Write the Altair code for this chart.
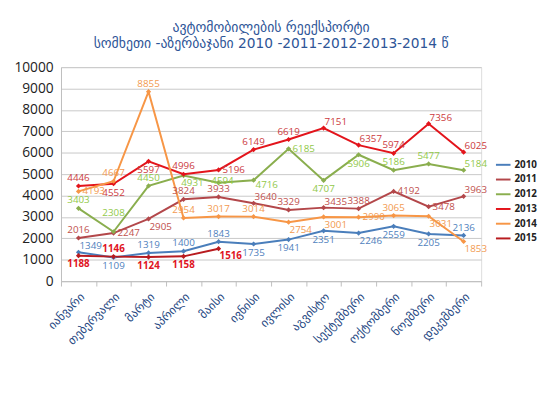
import altair as alt
import pandas as pd

months = ["იანვარი", "თებერვალი", "მარტი", "აპრილი", "მაისი", "ივნისი",
          "ივლისი", "აგვისტო", "სექტემბერი", "ოქტომბერი", "ნოემბერი", "დეკემბერი"]

years = ["2010", "2011", "2012", "2013", "2014", "2015"]

v2010 = [1349, 1109, 1319, 1400, 1843, 1735, 1941, 2351, 2246, 2559, 2205, 2136]
v2011 = [2016, 2247, 2905, 3824, 3933, 3640, 3329, 3435, 3388, 4192, 3478, 3963]
v2012 = [3403, 2308, 4450, 4931, 4594, 4716, 6185, 4707, 5906, 5186, 5477, 5184]
v2013 = [4446, 4552, 5597, 4996, 5196, 6149, 6619, 7151, 6357, 5974, 7356, 6025]
v2014 = [4193, 4667, 8855, 2954, 3017, 3014, 2754, 3001, 2990, 3065, 3031, 1853]
v2015 = [1188, 1146, 1124, 1158, 1516]

series = [v2010, v2011, v2012, v2013, v2014, v2015]

# label placement (style): a=above, s=slightly above right, aa=far above, b=below,
# bb=below right (centred), r=right, ar/br=above/below right, rs=right slightly below
label_pos = {
    "2010": ["ar", "b", "a", "a", "a", "b", "b", "b", "br", "b", "b", "a"],
    "2011": ["a", "r", "br", "a", "a", "ar", "a", "ar", "a", "r", "r", "ar"],
    "2012": ["a", "aa", "a", "bb", "s", "rs", "r", "b", "b", "a", "a", "ar"],
    "2013": ["a", "b", "b", "a", "r", "a", "a", "ar", "ar", "a", "ar", "ar"],
    "2014": ["r", "a", "a", "a", "a", "a", "br", "br", "r", "a", "br", "br"],
    "2015": ["b", "a", "b", "b", "br"],
}

line_colors = ["#4A7EBB", "#B3474A", "#8AAE4E", "#E3141B", "#F79646", "#B81B1F"]
label_colors = ["#4F81BD", "#C0504D", "#92C94A", "#CC3A40", "#F29A50", "#E0141E"]

rows = []
for yi, (yr, vals) in enumerate(zip(years, series)):
    for mi, v in enumerate(vals):
        rows.append({"month": months[mi], "year": yr, "value": v,
                     "pos": label_pos[yr][mi], "lc": label_colors[yi]})
df = pd.DataFrame(rows)

FONT = "Open Sans"
x_enc = alt.X("month:N", sort=months, title=None,
              scale=alt.Scale(paddingInner=0, paddingOuter=0),
              axis=alt.Axis(labelAngle=-45, labelFont="DejaVu Sans", labelFontSize=12,
                            labelColor="#24467F", tickBand="extent", tickColor="#BFBFBF",
                            tickSize=5, domainColor="#BFBFBF", grid=False,
                            labelPadding=5))
y_enc = alt.Y("value:Q", title=None,
              scale=alt.Scale(domain=[0, 10000]),
              axis=alt.Axis(values=list(range(0, 10001, 1000)), format="d",
                            labelFontSize=14, labelFont=FONT, labelColor="#222222",
                            ticks=False, domainColor="#BFBFBF", gridColor="#C8C8C8",
                            labelPadding=8))

legend = alt.Legend(title=None, orient="none", legendX=442, legendY=91,
                    labelFontWeight="bold", labelFontSize=10, labelFont=FONT,
                    labelColor="#222222", symbolType="stroke", symbolSize=220,
                    symbolStrokeWidth=2, rowPadding=1, labelOffset=3)
color_enc = alt.Color("year:N", scale=alt.Scale(domain=years, range=line_colors),
                      legend=legend)

base = alt.Chart(df)
lines = base.mark_line(strokeWidth=2).encode(x=x_enc, y=y_enc, color=color_enc,
                                              detail="year:N")
points = base.mark_point(shape="diamond", filled=True, size=28, opacity=1).encode(
    x=x_enc, y=y_enc, color=color_enc)

offsets = {
    "a": dict(dx=0, dy=-8, align="center"),
    "s": dict(dx=4, dy=-2, align="center"),
    "aa": dict(dx=0, dy=-19, align="center"),
    "b": dict(dx=0, dy=9, align="center"),
    "bb": dict(dx=9, dy=8, align="center"),
    "r": dict(dx=4, dy=0, align="left"),
    "ar": dict(dx=1, dy=-6, align="left"),
    "br": dict(dx=1, dy=8, align="left"),
    "rs": dict(dx=2, dy=5, align="left"),
}

layers = [lines, points]
for code, o in offsets.items():
    for bold in (False, True):
        cond = (alt.datum.pos == code) & ((alt.datum.year == "2015") if bold else (alt.datum.year != "2015"))
        layers.append(
            base.transform_filter(cond).mark_text(
                fontSize=10, font=FONT, baseline="middle",
                fontWeight="bold" if bold else "normal", **o
            ).encode(x=x_enc, y=y_enc, text=alt.Text("value:Q", format="d"),
                     fill=alt.Fill("lc:N", scale=None))
        )

chart = alt.layer(*layers).properties(
    width=428, height=218,
    padding={"left": 5, "top": 10, "right": 5, "bottom": 5},
    title=alt.TitleParams(
        text=["ავტომობილების  რეექსპორტი",
              "სომხეთი -აზერბაჯანი 2010 -2011-2012-2013-2014 წ"],
        font="DejaVu Sans", fontSize=14, fontWeight="normal", color="#2E5597",
        anchor="middle", offset=9, lineHeight=17),
).configure_view(stroke=None).configure(background="white")

chart.save("out.html", embed_options={"renderer": "svg", "actions": False})
